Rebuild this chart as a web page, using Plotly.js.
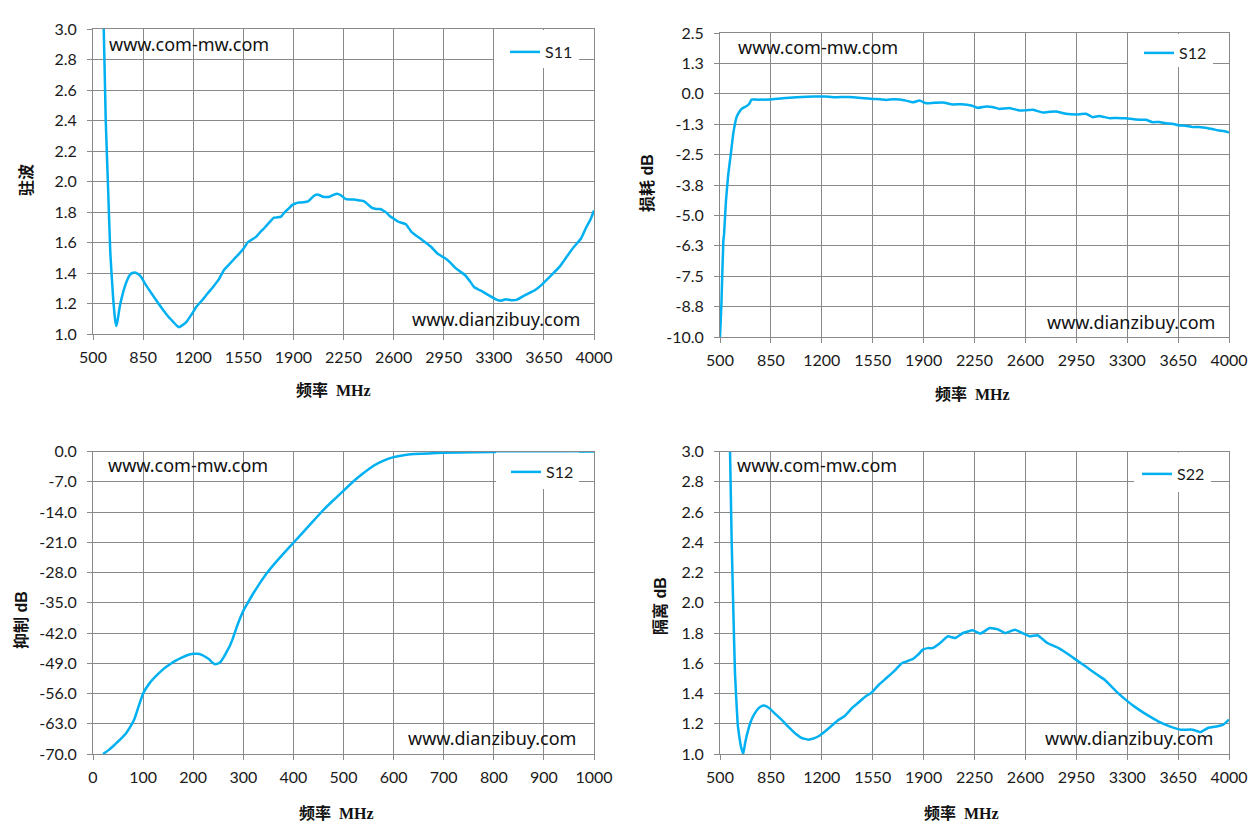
<!DOCTYPE html>
<html>
<head>
<meta charset="utf-8">
<script src="https://cdn.plot.ly/plotly-3.0.1.min.js"></script>
<style>
  body { margin: 0; background: #fff; }
  #chart { width: 1258px; height: 840px; }
</style>
</head>
<body>
<div id="chart"></div>
<script>
// S11 standing wave (top left)
var s11Freq = [560, 575, 589, 605, 621, 640, 655, 663, 672, 687, 704, 722, 740, 757, 775, 792, 815, 838, 870, 908, 950, 990, 1025, 1060, 1085, 1100, 1125, 1153, 1190, 1223, 1265, 1300, 1340, 1380, 1415, 1450, 1490, 1520, 1552, 1580, 1602, 1639, 1670, 1702, 1735, 1764, 1790, 1814, 1840, 1864, 1890, 1914, 1940, 1969, 2003, 2042, 2065, 2085, 2106, 2130, 2152, 2180, 2204, 2232, 2266, 2295, 2323, 2360, 2392, 2420, 2449, 2480, 2506, 2530, 2552, 2575, 2600, 2636, 2686, 2724, 2786, 2861, 2911, 2961, 3000, 3035, 3098, 3130, 3160, 3195, 3222, 3272, 3322, 3350, 3384, 3420, 3459, 3509, 3550, 3584, 3634, 3696, 3759, 3809, 3859, 3909, 3946, 3975, 4000];
var s11Vals = [3.35, 3.0, 2.40, 1.967, 1.53, 1.245, 1.09, 1.053, 1.09, 1.18, 1.25, 1.31, 1.355, 1.387, 1.40, 1.404, 1.393, 1.372, 1.32, 1.267, 1.21, 1.157, 1.115, 1.08, 1.055, 1.044, 1.058, 1.08, 1.13, 1.18, 1.224, 1.265, 1.31, 1.36, 1.42, 1.455, 1.496, 1.525, 1.56, 1.6, 1.615, 1.637, 1.67, 1.70, 1.735, 1.763, 1.765, 1.77, 1.8, 1.82, 1.845, 1.856, 1.862, 1.864, 1.87, 1.905, 1.915, 1.91, 1.9, 1.898, 1.9, 1.912, 1.92, 1.91, 1.884, 1.882, 1.882, 1.876, 1.871, 1.85, 1.827, 1.82, 1.82, 1.808, 1.794, 1.772, 1.757, 1.735, 1.72, 1.67, 1.626, 1.572, 1.524, 1.496, 1.465, 1.43, 1.387, 1.35, 1.31, 1.29, 1.278, 1.25, 1.224, 1.218, 1.228, 1.222, 1.224, 1.25, 1.27, 1.285, 1.322, 1.38, 1.44, 1.506, 1.57, 1.626, 1.70, 1.75, 1.81];

// S12 insertion loss (top right)
var lossFreq = [500, 510, 523, 528, 541, 557, 576, 591, 614, 632, 649, 665, 678, 700, 717, 760, 843, 930, 1026, 1100, 1186, 1250, 1301, 1360, 1415, 1490, 1552, 1600, 1644, 1690, 1735, 1780, 1826, 1872, 1918, 1970, 2032, 2101, 2160, 2227, 2273, 2330, 2380, 2422, 2490, 2559, 2600, 2650, 2719, 2770, 2811, 2879, 2948, 3017, 3062, 3108, 3177, 3230, 3291, 3360, 3428, 3474, 3520, 3565, 3610, 3657, 3700, 3748, 3790, 3840, 3885, 3931, 3965, 4000];
var lossVals = [-10.0, -8.6, -6.04, -5.77, -4.40, -3.30, -2.40, -1.65, -0.96, -0.75, -0.62, -0.56, -0.52, -0.42, -0.235, -0.24, -0.235, -0.18, -0.14, -0.12, -0.11, -0.12, -0.14, -0.13, -0.14, -0.18, -0.21, -0.22, -0.25, -0.22, -0.235, -0.28, -0.35, -0.28, -0.39, -0.37, -0.36, -0.44, -0.43, -0.48, -0.58, -0.52, -0.55, -0.62, -0.58, -0.69, -0.68, -0.66, -0.77, -0.74, -0.73, -0.82, -0.85, -0.82, -0.96, -0.91, -1.0, -0.99, -1.01, -1.06, -1.07, -1.17, -1.16, -1.21, -1.23, -1.30, -1.31, -1.37, -1.36, -1.40, -1.45, -1.51, -1.53, -1.59];

// S12 rejection (bottom left)
var rejFreq = [20, 31, 40, 50, 58, 66, 74, 82, 91, 100, 113, 129, 141, 153, 165, 177, 189, 200, 208, 216, 224, 232, 238, 243, 249, 255, 261, 267, 273, 279, 287, 295, 303, 309, 320, 334, 348, 365, 382, 401, 420, 438, 456, 475, 497, 519, 540, 560, 580, 600, 620, 640, 670, 700, 760, 838, 920, 1000];
var rejVals = [-70.0, -69.1, -68.2, -67.1, -66.2, -65.2, -63.8, -62.1, -59.0, -56.0, -53.6, -51.6, -50.3, -49.3, -48.4, -47.7, -47.1, -46.8, -46.8, -47.0, -47.5, -48.1, -48.8, -49.2, -49.1, -48.6, -47.6, -46.3, -45.0, -43.3, -40.6, -38.2, -36.2, -35.0, -32.8, -30.3, -28.0, -25.6, -23.4, -21.0, -18.6, -16.3, -14.0, -11.8, -9.4, -7.0, -5.0, -3.3, -2.1, -1.3, -0.85, -0.6, -0.45, -0.3, -0.15, -0.08, -0.04, 0.0];

// S22 isolation (bottom right)
var isoFreq = [555, 569, 580, 591, 603, 621, 635, 644, 660, 672, 694, 716, 740, 768, 797, 820, 843, 880, 923, 960, 992, 1025, 1060, 1106, 1150, 1186, 1217, 1250, 1283, 1316, 1355, 1408, 1440, 1474, 1507, 1540, 1592, 1630, 1671, 1710, 1750, 1790, 1829, 1860, 1895, 1930, 1961, 2014, 2066, 2119, 2171, 2237, 2290, 2355, 2408, 2461, 2526, 2579, 2632, 2684, 2750, 2829, 2882, 2947, 3013, 3092, 3145, 3224, 3303, 3355, 3434, 3513, 3592, 3671, 3750, 3803, 3855, 3921, 3961, 4000];
var isoVals = [3.5, 3.0, 2.42, 1.976, 1.535, 1.205, 1.1, 1.05, 1.0, 1.07, 1.16, 1.225, 1.27, 1.305, 1.32, 1.315, 1.30, 1.265, 1.227, 1.19, 1.16, 1.13, 1.106, 1.095, 1.105, 1.122, 1.145, 1.172, 1.2, 1.227, 1.249, 1.304, 1.33, 1.359, 1.385, 1.403, 1.458, 1.49, 1.525, 1.56, 1.60, 1.615, 1.63, 1.655, 1.69, 1.70, 1.70, 1.734, 1.778, 1.767, 1.80, 1.818, 1.796, 1.833, 1.826, 1.80, 1.822, 1.80, 1.778, 1.785, 1.734, 1.70, 1.668, 1.624, 1.58, 1.525, 1.491, 1.414, 1.348, 1.31, 1.26, 1.216, 1.183, 1.161, 1.161, 1.145, 1.172, 1.183, 1.194, 1.227];

// tick labels
var lossTicks = [2.5, 1.25, 0, -1.25, -2.5, -3.75, -5, -6.25, -7.5, -8.75, -10];
var lossLabels = ['2.5', '1.3', '0.0', '-1.3', '-2.5', '-3.8', '-5.0', '-6.3', '-7.5', '-8.8', '-10.0'];
var rejTicks = [0, -7, -14, -21, -28, -35, -42, -49, -56, -63, -70];
var rejLabels = ['0.0', '-7.0', '-14.0', '-21.0', '-28.0', '-35.0', '-42.0', '-49.0', '-56.0', '-63.0', '-70.0'];

var W = 1258, H = 840;
function px(x) { return x / W; }
function py(y) { return 1 - y / H; }

var blue = '#00B0F0';
var grid = '#898989';
var tickFont = { family: 'Lato, "Liberation Sans", sans-serif', size: 16, color: '#1a1a1a' };

function trace(x, y, name, xa, ya, lg) {
  return {
    x: x, y: y, name: name, type: 'scatter', mode: 'lines',
    xaxis: xa, yaxis: ya, legend: lg, showlegend: true,
    line: { color: blue, width: 2.5, shape: 'spline', smoothing: 0.3 }
  };
}

var data = [
  trace(s11Freq, s11Vals, 'S11', 'x', 'y', 'legend'),
  trace(lossFreq, lossVals, 'S12', 'x2', 'y2', 'legend2'),
  trace(rejFreq, rejVals, 'S12', 'x3', 'y3', 'legend3'),
  trace(isoFreq, isoVals, 'S22', 'x4', 'y4', 'legend4')
];

function xax(dom, anchor, r, t0, dt) {
  return {
    domain: dom, anchor: anchor, range: r, tick0: t0, dtick: dt,
    showgrid: true, gridcolor: grid, gridwidth: 1, zeroline: false,
    showline: true, linecolor: grid, linewidth: 1, mirror: true,
    ticks: 'outside', ticklen: 5, tickcolor: grid, tickfont: tickFont,
    ticklabelstandoff: 4
  };
}
function yax(dom, anchor, r, opts) {
  var a = {
    domain: dom, anchor: anchor, range: r,
    showgrid: true, gridcolor: grid, gridwidth: 1, zeroline: false,
    showline: true, linecolor: grid, linewidth: 1, mirror: true,
    ticks: 'outside', ticklen: 5, tickcolor: grid, tickfont: tickFont,
    ticklabelstandoff: 7
  };
  for (var k in opts) a[k] = opts[k];
  return a;
}

var xL = [px(93), px(594)], xR = [px(720), px(1229)];
var yT = [py(334), py(29)], yT2 = [py(337), py(33)], yB = [py(754), py(451.5)];

function legendAt(xr, yt) {
  return {
    x: px(xr), y: py(yt), xanchor: 'right', yanchor: 'top',
    bgcolor: 'rgba(255,255,255,0)', borderwidth: 0,
    font: { family: 'Lato, "Liberation Sans", sans-serif', size: 16, color: '#1a1a1a' },
    itemwidth: 30
  };
}

// white legend backgrounds
function box(x0, y0, x1, y1) {
  return { type: 'rect', xref: 'paper', yref: 'paper', layer: 'above',
           x0: px(x0), x1: px(x1), y0: py(y1), y1: py(y0),
           fillcolor: '#ffffff', line: { width: 0 } };
}

var wmFont = { family: '"Noto Sans", "Open Sans", sans-serif', size: 18, color: '#111' };
var cjkTitle = { family: '"Liberation Serif", "Noto Sans CJK SC", serif', size: 16, color: '#111' };
var yTitleFont = { family: '"Liberation Sans", "Noto Sans CJK SC", sans-serif', size: 16, color: '#111' };

function note(text, x, y, xa, font, rot) {
  var a = { text: text, xref: 'paper', yref: 'paper', x: px(x), y: py(y),
            xanchor: xa, yanchor: 'middle', showarrow: false, font: font };
  if (rot) a.textangle = rot;
  return a;
}

var annotations = [
  note('www.com-mw.com', 107, 44, 'left', wmFont),
  note('www.dianzibuy.com', 582, 319, 'right', wmFont),
  note('www.com-mw.com', 736, 47, 'left', wmFont),
  note('www.dianzibuy.com', 1217, 322, 'right', wmFont),
  note('www.com-mw.com', 106, 465, 'left', wmFont),
  note('www.dianzibuy.com', 578, 738, 'right', wmFont),
  note('www.com-mw.com', 735, 465, 'left', wmFont),
  note('www.dianzibuy.com', 1215, 738, 'right', wmFont),
  note('<b>频率  MHz</b>', 333, 390, 'center', cjkTitle),
  note('<b>频率  MHz</b>', 972, 394, 'center', cjkTitle),
  note('<b>频率  MHz</b>', 336, 813, 'center', cjkTitle),
  note('<b>频率  MHz</b>', 962, 813, 'center', cjkTitle),
  note('<b>驻波</b>', 26, 180, 'center', yTitleFont, -90),
  note('<b>损耗 dB</b>', 647, 183, 'center', yTitleFont, -90),
  note('<b>抑制 dB</b>', 21, 620, 'center', yTitleFont, -90),
  note('<b>隔离 dB</b>', 660, 606, 'center', yTitleFont, -90)
];

var layout = {
  width: W, height: H,
  margin: { l: 0, r: 0, t: 0, b: 0 },
  paper_bgcolor: '#ffffff', plot_bgcolor: '#ffffff',
  showlegend: true,
  xaxis: xax(xL, 'y', [500, 4000], 500, 350),
  yaxis: yax(yT, 'x', [1, 3], { tick0: 1, dtick: 0.2, tickformat: '.1f' }),
  xaxis2: xax(xR, 'y2', [500, 4000], 500, 350),
  yaxis2: yax(yT2, 'x2', [-10, 2.5], { tickmode: 'array', tickvals: lossTicks, ticktext: lossLabels }),
  xaxis3: xax(xL, 'y3', [0, 1000], 0, 100),
  yaxis3: yax(yB, 'x3', [-70, 0], { tickmode: 'array', tickvals: rejTicks, ticktext: rejLabels }),
  xaxis4: xax(xR, 'y4', [500, 4000], 500, 350),
  yaxis4: yax(yB, 'x4', [1, 3], { tick0: 1, dtick: 0.2, tickformat: '.1f' }),
  legend: legendAt(578, 35),
  legend2: legendAt(1212, 36),
  legend3: legendAt(579, 455),
  legend4: legendAt(1210, 457),
  shapes: [
    box(494, 30, 579, 68),
    box(1128, 34, 1213, 67),
    box(496, 452.5, 579, 489),
    box(1134, 452.5, 1211, 492)
  ],
  annotations: annotations
};

Plotly.newPlot('chart', data, layout, { staticPlot: true });
</script>
</body>
</html>
